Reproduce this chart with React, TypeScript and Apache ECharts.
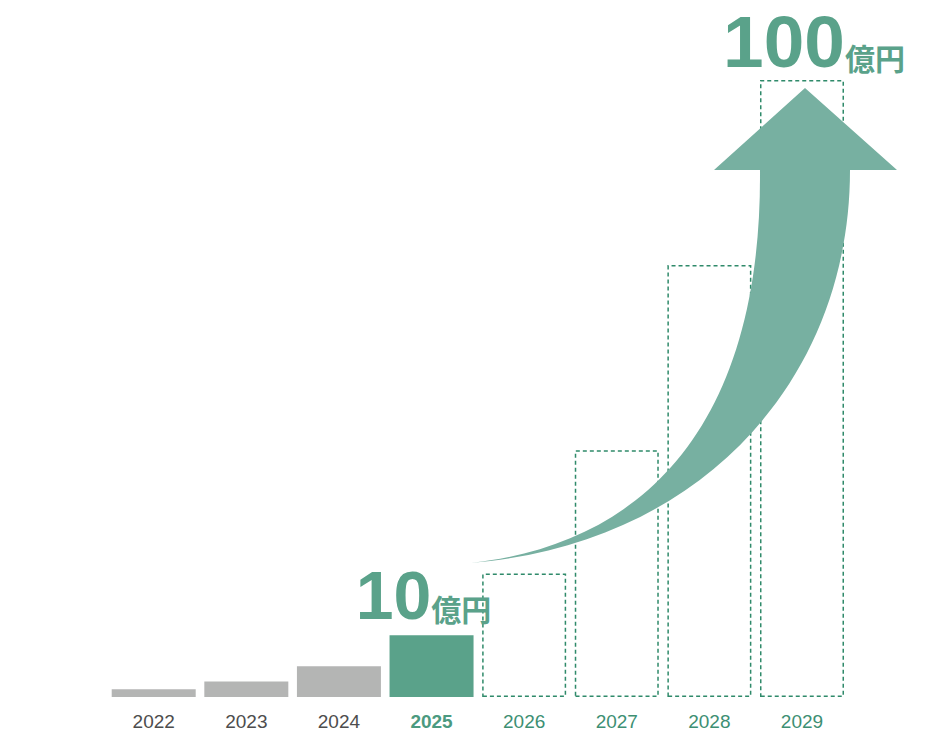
import React, { useEffect, useRef } from "react";
import * as echarts from "echarts";

// ---- data (億円) ----
const years = ["2022", "2023", "2024", "2025", "2026", "2027", "2028", "2029"];
const revenue = [1.25, 2.5, 5, 10, 20, 40, 70, 100];
const currentIndex = 3; // 2025: last actual year
const calloutIndices = [3, 7];
const unitLabel = "億円";

const GREEN = "#5aa28a";
const GRAY = "#b4b5b4";
const DASH = "#2f8a6a";
const ARROW = "#77b0a1";
const LATIN = "'Liberation Sans', Arial, Helvetica, sans-serif";
const CJK = "'Noto Sans CJK JP', 'Noto Sans', sans-serif";

const ARROW_D =
  "M470 563 C640 545 762 430 760 170 L714 170 L805 88 L897 170 L850 170 C850 380 700 545 470 563 Z";

let registered = false;
function ensureShape() {
  if (registered) return;
  echarts.graphic.registerShape("growthArrow", echarts.graphic.extendPath(ARROW_D, {}) as any);
  registered = true;
}

export default function App() {
  const ref = useRef<HTMLDivElement>(null);
  useEffect(() => {
    if (!ref.current) return;
    ensureShape();
    const chart = echarts.init(ref.current, undefined, { renderer: "svg" });

    const data = revenue.map((v, i) => {
      const projected = i > currentIndex;
      const item: any = {
        value: v,
        itemStyle: projected
          ? { color: "rgba(0,0,0,0)", borderColor: DASH, borderWidth: 1.5, borderType: [4, 3] }
          : { color: i === currentIndex ? GREEN : GRAY },
      };
      if (calloutIndices.includes(i)) {
        const big = v >= 100;
        item.label = {
          show: true,
          position: "top",
          distance: big ? 2 : 6,
          offset: big ? [12, 0] : [-8, 0],
          formatter: (p: any) => `{num|${p.value}}{unit|${unitLabel}}`,
          rich: {
            num: {
              fontFamily: LATIN,
              fontWeight: "bold",
              fontSize: big ? 73 : 68,
              color: GREEN,
              verticalAlign: "bottom",
              lineHeight: big ? 64 : 62,
            },
            unit: {
              fontFamily: CJK,
              fontWeight: "bold",
              fontSize: 30,
              color: GREEN,
              verticalAlign: "bottom",
              lineHeight: 30,
              padding: [0, 0, 6, 0],
            },
          },
        };
      }
      return item;
    });

    chart.setOption({
      animation: false,
      grid: { left: 107.4, right: 93.7, top: 80, bottom: 43 },
      xAxis: {
        type: "category",
        data: years.map((y, i) => ({
          value: y,
          textStyle:
            i < currentIndex
              ? { color: "#4d4d4d", fontWeight: "normal" }
              : i === currentIndex
              ? { color: "#4b9a80", fontWeight: "bold" }
              : { color: "#3d8f73", fontWeight: "normal" },
        })),
        axisLine: { show: false },
        axisTick: { show: false },
        axisLabel: { fontFamily: LATIN, fontSize: 19, margin: 15 },
      },
      yAxis: { type: "value", min: 0, max: 100, show: false },
      series: [
        {
          type: "bar",
          data,
          barWidth: 84,
        },
      ],
      graphic: [
        {
          type: "growthArrow",
          x: 0,
          y: 0,
          z: 100,
          style: { fill: ARROW },
        },
      ],
    });
    return () => chart.dispose();
  }, []);
  return (
    <div
      ref={ref}
      style={{ position: "fixed", left: 0, top: 0, width: 942, height: 740, background: "#fff" }}
    />
  );
}
